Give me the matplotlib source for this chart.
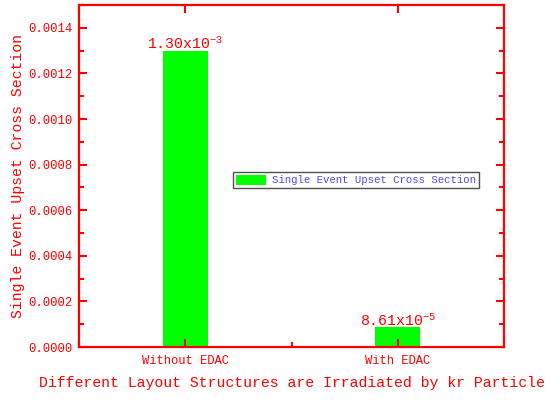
import matplotlib
matplotlib.use("Agg")
import matplotlib.pyplot as plt
from matplotlib.ticker import MultipleLocator

categories = ["Without EDAC", "With EDAC"]
cross_section = [1.30e-3, 8.61e-5]
bar_labels = ["1.30x10$^{-3}$", "8.61x10$^{-5}$"]

RED = "#ff0000"
GREEN = "#00ff00"
BLUE = "#4a4aff"
FONT = "Liberation Mono"

plt.rcParams["font.family"] = FONT
plt.rcParams["mathtext.fontset"] = "custom"
plt.rcParams["mathtext.rm"] = FONT
plt.rcParams["mathtext.it"] = FONT

fig = plt.figure(figsize=(5.5, 4.01), dpi=100)
ax = fig.add_axes([79 / 550, 1 - 347 / 401, 425 / 550, 342 / 401])

x = [1, 2]
ax.bar(x, cross_section, width=0.21, color=GREEN, edgecolor="none",
       label="Single Event Upset Cross Section")

for xi, v, lab in zip(x, cross_section, bar_labels):
    ax.text(xi, v - 0.000005, lab, ha="center", va="bottom", color=RED, fontsize=10.7)

ax.set_xlim(0.5, 2.5)
ax.set_ylim(0, 0.0015)
ax.set_xticks(x)
ax.set_xticklabels(categories, fontsize=8.7, color=RED)
ax.xaxis.set_minor_locator(MultipleLocator(0.5))
ax.yaxis.set_major_locator(MultipleLocator(0.0002))
ax.yaxis.set_minor_locator(MultipleLocator(0.0001))
ax.yaxis.set_major_formatter(plt.FuncFormatter(lambda v, p: f"{v:.4f}"))

ax.tick_params(which="both", direction="in", top=True, right=True, color=RED, width=1.5)
ax.tick_params(which="major", length=6)
ax.tick_params(which="minor", length=3.5)
ax.tick_params(axis="y", labelsize=8.8, labelcolor=RED, pad=5)
ax.tick_params(axis="x", labelsize=8.7, labelcolor=RED, pad=6)
ax.tick_params(axis="x", which="minor", top=False)

for s in ax.spines.values():
    s.set_color(RED)
    s.set_linewidth(1.6)

ax.set_xlabel("Different Layout Structures are Irradiated by kr Particle",
              color=RED, fontsize=10.7, labelpad=6)
ax.set_ylabel("Single Event Upset Cross Section", color=RED, fontsize=10.7, labelpad=2)

leg = ax.legend(loc="upper left", bbox_to_anchor=((233 - 79) / 425, 1 - (172 - 5) / 342),
                fontsize=7.7, fancybox=False, framealpha=1, edgecolor="#505050",
                borderpad=0.25, handlelength=2.8, handleheight=1.1, handletextpad=0.6,
                borderaxespad=0)
leg.get_frame().set_linewidth(1.0)
for t in leg.get_texts():
    t.set_color(BLUE)

fig.savefig("out.png", dpi=100)
